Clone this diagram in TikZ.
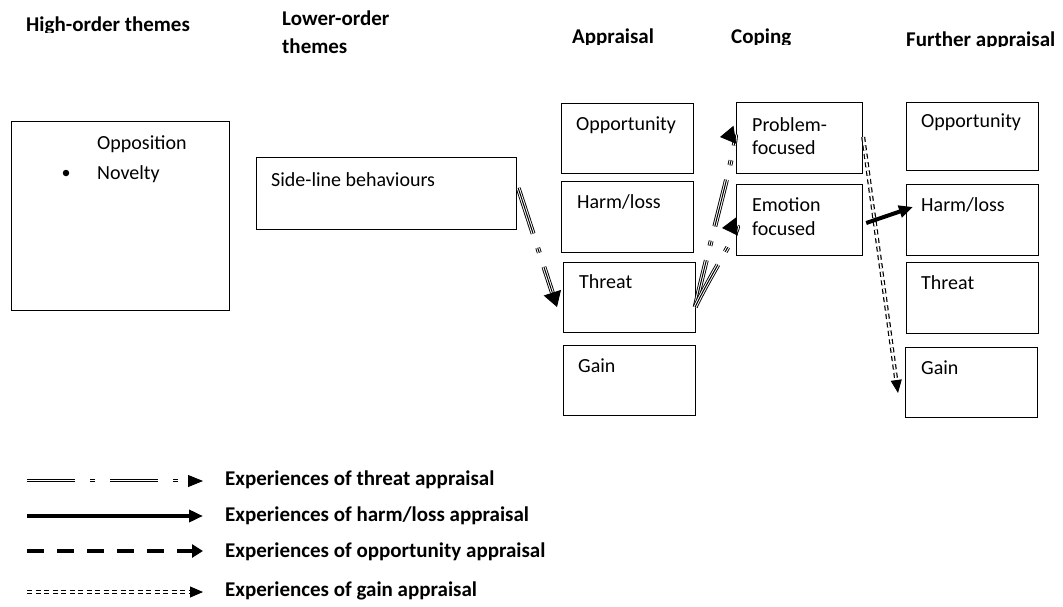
\documentclass[tikz,border=0pt]{standalone}
\usepackage{fontspec}
\setmainfont{Carlito}
\usetikzlibrary{calc,arrows.meta}

\tikzset{
  box/.style={draw, line width=1.2pt, anchor=north west, inner sep=0pt},
  txt/.style={anchor=base west, inner sep=0pt, font=\fontsize{20}{24}\selectfont},
  head/.style={anchor=base west, inner sep=0pt, font=\bfseries\fontsize{21}{25}\selectfont},
  dot/.style={circle, fill, inner sep=0pt, minimum size=6.5pt},
  thrdash/.style={dash pattern=on 48pt off 15pt on 5pt off 15pt, shorten >=15pt},
  threat/.style={draw, line width=4.8pt, thrdash,
    postaction={draw=white, line width=3pt, thrdash},
    postaction={draw=black, line width=1pt, thrdash},
    postaction={draw=black, line width=0.8pt, dash pattern=on 0pt off 1000pt, shorten >=0pt,
      arrows={-Triangle[length=15pt,width=#1]}}},
  threat/.default=18pt,
  harm/.style={draw, line width=4pt, arrows={-Triangle[length=14pt,width=12pt]}},
  opp/.style={draw, line width=4pt, dash pattern=on 17pt off 13pt, arrows={-Triangle[length=11pt,width=13pt]}},
  gain/.style={draw, line width=4pt, dash pattern=on 5pt off 3.5pt, shorten >=13pt,
    postaction={draw=white, line width=1.6pt, dash pattern=on 5pt off 3.5pt, shorten >=13pt},
    postaction={draw=black, line width=0.8pt, dash pattern=on 0pt off 1000pt, shorten >=0pt,
      arrows={-Triangle[length=13pt,width=11pt]}}}
}

\begin{document}
\begin{tikzpicture}[x=1pt,y=-1pt]
\useasboundingbox (0,0) rectangle (1063,606);

% column heads
\begin{scope}
\clip (0,0) rectangle (1063,32);
\node[head] (h-high) at (26,31) {High-order themes};
\end{scope}
\node[head] (h-low) at (282,25) {Lower-order};
\node[head] (h-low2) at (282,53) {themes};
\begin{scope}
\clip (0,0) rectangle (1063,44);
\node[head] (h-app) at (572,43.5) {Appraisal};
\node[head] (h-cop) at (731,43.5) {Coping};
\end{scope}
\begin{scope}
\clip (0,0) rectangle (1063,46.5);
\node[head] (h-fur) at (906,46) {Further appraisal};
\end{scope}

% themes
\node[box, minimum width=218pt, minimum height=189pt] (high) at (11,121) {};
\node[txt] (high-t1) at ($(high.north west)+(86,28)$) {Opposition};
\node[txt] (high-t2) at ($(high-t1.base west)+(0,30)$) {Novelty};
\node[dot] (high-dot) at ($(high.north west)+(55,52)$) {};

\node[box, minimum width=260pt, minimum height=72pt] (side) at (256,157) {};
\node[txt] (side-t) at ($(side.north west)+(15,29)$) {Side-line behaviours};

% appraisal
\node[box, minimum width=132pt, minimum height=70pt] (app1) at (561,103) {};
\node[box, minimum width=132pt, minimum height=71pt] (app2) at (561,181) {};
\node[box, minimum width=132pt, minimum height=70pt] (thr) at (563,262) {};
\node[box, minimum width=132pt, minimum height=70pt] (app4) at (563,345) {};
\node[txt] (app1-t) at ($(app1.north west)+(15,27)$) {Opportunity};
\node[txt] (app2-t) at ($(app2.north west)+(16,27)$) {Harm/loss};
\node[txt] (thr-t) at ($(thr.north west)+(16,26)$) {Threat};
\node[txt] (app4-t) at ($(app4.north west)+(15,27)$) {Gain};

% coping
\node[box, minimum width=126pt, minimum height=71pt] (cop1) at (736,102) {};
\node[box, minimum width=126pt, minimum height=71pt] (cop2) at (736,184) {};
\node[txt] (cop1-t) at ($(cop1.north west)+(16,29)$) {Problem-};
\node[txt] (cop1-t2) at ($(cop1-t.base west)+(0,23)$) {focused};
\node[txt] (cop2-t) at ($(cop2.north west)+(16,27)$) {Emotion};
\node[txt] (cop2-t2) at ($(cop2-t.base west)+(0,24)$) {focused};

% further appraisal
\node[box, minimum width=132pt, minimum height=68pt] (fur1) at (906,102) {};
\node[box, minimum width=132pt, minimum height=71pt] (fur2) at (906,184) {};
\node[box, minimum width=132pt, minimum height=71pt] (fur3) at (906,262) {};
\node[box, minimum width=132pt, minimum height=70pt] (fur4) at (905,347) {};
\node[txt] (fur1-t) at ($(fur1.north west)+(15,25)$) {Opportunity};
\node[txt] (fur2-t) at ($(fur2.north west)+(15,27)$) {Harm/loss};
\node[txt] (fur3-t) at ($(fur3.north west)+(15,27)$) {Threat};
\node[txt] (fur4-t) at ($(fur4.north west)+(16,27)$) {Gain};

% arrows
\coordinate (s1) at ($(side.north east)+(1,31)$);
\coordinate (e1) at ($(thr.north west)+(-6,45)$);
\draw[threat] (s1) -- (e1);

\coordinate (s2) at ($(thr.north east)+(-1,45)$);
\coordinate (e2) at ($(cop1.north west)+(-16,35)$);
\coordinate (e3) at ($(cop2.north west)+(-14,44)$);
\draw[threat] (s2) .. controls ($(s2)+(12,-55)$) and ($(e2)+(20,-3)$) .. (e2);
\draw[threat] (s2) .. controls ($(s2)+(14,-30)$) and ($(e3)+(20,-2)$) .. (e3);

\coordinate (s4) at ($(cop1.north east)+(0,35)$);
\coordinate (e4) at ($(fur4.north west)+(-7,46)$);
\draw[gain] (s4) -- (e4);

\coordinate (s5) at ($(cop2.north east)+(3,39)$);
\coordinate (e5) at ($(fur2.north west)+(7,23)$);
\draw[harm] (s5) -- (e5);

% key
\coordinate (k1a) at (27,481); \coordinate (k1b) at (203,481);
\coordinate (k2a) at (27,516); \coordinate (k2b) at (203,516);
\coordinate (k3a) at (27,551); \coordinate (k3b) at (203,551);
\coordinate (k4a) at (27,592); \coordinate (k4b) at (203,592);
\draw[threat=12pt] (k1a) -- (k1b);
\draw[harm] (k2a) -- (k2b);
\draw[opp] (k3a) -- (k3b);
\draw[gain] (k4a) -- (k4b);
\node[head] (k1-t) at (225,485.5) {Experiences of threat appraisal};
\node[head] (k2-t) at (225,521) {Experiences of harm/loss appraisal};
\node[head] (k3-t) at (225,557) {Experiences of opportunity appraisal};
\node[head] (k4-t) at (225,596) {Experiences of gain appraisal};
\end{tikzpicture}
\end{document}
